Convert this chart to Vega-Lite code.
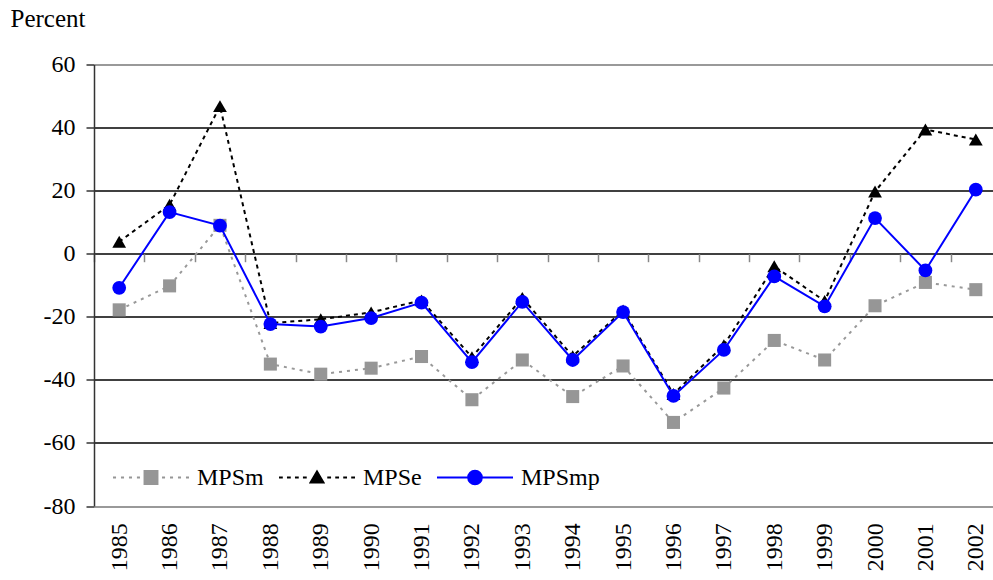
{
  "$schema": "https://vega.github.io/schema/vega-lite/v6.json",
  "width": 899,
  "height": 441.5,
  "autosize": "none",
  "padding": {"left": 94, "top": 64.5, "right": 0, "bottom": 74},
  "background": "white",
  "config": {
    "view": {"stroke": null},
    "font": "Times New Roman, Liberation Serif, serif",
    "legend": {
      "orient": "none",
      "legendX": 18,
      "legendY": 374,
      "direction": "horizontal",
      "padding": 0,
      "symbolSize": 5776,
      "labelFont": "Times New Roman, Liberation Serif, serif",
      "labelFontSize": 24,
      "labelColor": "black",
      "labelOffset": 7,
      "columnPadding": 11,
      "symbolOpacity": 1,
      "symbolStrokeWidth": 2
    }
  },
  "data": {
    "values": [
      {"year": "1985", "series": "MPSm", "value": -17.8},
      {"year": "1986", "series": "MPSm", "value": -10.2},
      {"year": "1987", "series": "MPSm", "value": 9.0},
      {"year": "1988", "series": "MPSm", "value": -35.0},
      {"year": "1989", "series": "MPSm", "value": -38.2},
      {"year": "1990", "series": "MPSm", "value": -36.3},
      {"year": "1991", "series": "MPSm", "value": -32.6},
      {"year": "1992", "series": "MPSm", "value": -46.3},
      {"year": "1993", "series": "MPSm", "value": -33.7},
      {"year": "1994", "series": "MPSm", "value": -45.3},
      {"year": "1995", "series": "MPSm", "value": -35.6},
      {"year": "1996", "series": "MPSm", "value": -53.5},
      {"year": "1997", "series": "MPSm", "value": -42.6},
      {"year": "1998", "series": "MPSm", "value": -27.5},
      {"year": "1999", "series": "MPSm", "value": -33.7},
      {"year": "2000", "series": "MPSm", "value": -16.5},
      {"year": "2001", "series": "MPSm", "value": -9.1},
      {"year": "2002", "series": "MPSm", "value": -11.4},
      {"year": "1985", "series": "MPSe", "value": 3.8},
      {"year": "1986", "series": "MPSe", "value": 15.5},
      {"year": "1987", "series": "MPSe", "value": 46.8},
      {"year": "1988", "series": "MPSe", "value": -22.0},
      {"year": "1989", "series": "MPSe", "value": -20.8},
      {"year": "1990", "series": "MPSe", "value": -18.6},
      {"year": "1991", "series": "MPSe", "value": -14.8},
      {"year": "1992", "series": "MPSe", "value": -32.8},
      {"year": "1993", "series": "MPSe", "value": -14.0},
      {"year": "1994", "series": "MPSe", "value": -32.5},
      {"year": "1995", "series": "MPSe", "value": -18.0},
      {"year": "1996", "series": "MPSe", "value": -44.5},
      {"year": "1997", "series": "MPSe", "value": -29.0},
      {"year": "1998", "series": "MPSe", "value": -4.0},
      {"year": "1999", "series": "MPSe", "value": -15.0},
      {"year": "2000", "series": "MPSe", "value": 19.7},
      {"year": "2001", "series": "MPSe", "value": 39.4},
      {"year": "2002", "series": "MPSe", "value": 36.2},
      {"year": "1985", "series": "MPSmp", "value": -10.8},
      {"year": "1986", "series": "MPSmp", "value": 13.2},
      {"year": "1987", "series": "MPSmp", "value": 8.9},
      {"year": "1988", "series": "MPSmp", "value": -22.3},
      {"year": "1989", "series": "MPSmp", "value": -23.1},
      {"year": "1990", "series": "MPSmp", "value": -20.4},
      {"year": "1991", "series": "MPSmp", "value": -15.5},
      {"year": "1992", "series": "MPSmp", "value": -34.4},
      {"year": "1993", "series": "MPSmp", "value": -15.3},
      {"year": "1994", "series": "MPSmp", "value": -33.7},
      {"year": "1995", "series": "MPSmp", "value": -18.5},
      {"year": "1996", "series": "MPSmp", "value": -45.1},
      {"year": "1997", "series": "MPSmp", "value": -30.5},
      {"year": "1998", "series": "MPSmp", "value": -7.2},
      {"year": "1999", "series": "MPSmp", "value": -16.7},
      {"year": "2000", "series": "MPSmp", "value": 11.3},
      {"year": "2001", "series": "MPSmp", "value": -5.3},
      {"year": "2002", "series": "MPSmp", "value": 20.3}
    ]
  },
  "encoding": {
    "x": {
      "field": "year",
      "type": "ordinal",
      "scale": {"type": "band", "range": [0, 907], "paddingInner": 0, "paddingOuter": 0},
      "axis": {
        "title": null,
        "orient": "bottom",
        "offset": -252.3,
        "tickBand": "extent",
        "ticks": true,
        "tickSize": 8,
        "tickColor": "#888888",
        "tickWidth": 1.5,
        "domain": false,
        "grid": false,
        "labelAngle": -90,
        "labelAlign": "right",
        "labelBaseline": "middle",
        "labelPadding": 261,
        "labelFont": "Times New Roman, Liberation Serif, serif",
        "labelFontSize": 24,
        "labelColor": "black",
        "labelOverlap": false
      }
    },
    "y": {
      "field": "value",
      "type": "quantitative",
      "scale": {"domain": [-80, 60], "nice": false, "zero": false},
      "axis": {
        "values": [-80, -60, -40, -20, 0, 20, 40, 60],
        "labelExpr": "'' + datum.value",
        "title": "Percent",
        "titleAngle": 0,
        "titleAlign": "left",
        "titleBaseline": "alphabetic",
        "titleX": -84,
        "titleY": -38,
        "titleFont": "Times New Roman, Liberation Serif, serif",
        "titleFontSize": 25,
        "titleFontWeight": "normal",
        "titleColor": "black",
        "labelFont": "Times New Roman, Liberation Serif, serif",
        "labelFontSize": 24,
        "labelColor": "black",
        "labelPadding": 11,
        "tickSize": 8,
        "tickColor": "#333333",
        "tickWidth": 1.5,
        "domainColor": "#333333",
        "domainWidth": 1.5,
        "grid": true,
        "gridColor": {"condition": {"test": "datum.value === 60 || datum.value === -80", "value": "#999999"}, "value": "#000000"},
        "gridWidth": {"condition": {"test": "datum.value === 60 || datum.value === -80", "value": 2}, "value": 1.4},
        "gridOpacity": 1
      }
    }
  },
  "layer": [
    {
      "transform": [{"filter": "datum.series === 'MPSm'"}],
      "mark": {"type": "line", "color": "#999999", "strokeDash": [3, 5], "strokeWidth": 2}
    },
    {
      "transform": [{"filter": "datum.series === 'MPSm'"}],
      "mark": {"type": "point", "shape": "square", "filled": true, "color": "#969696", "size": 170, "opacity": 1}
    },
    {
      "transform": [{"filter": "datum.series === 'MPSe'"}],
      "mark": {"type": "line", "color": "black", "strokeDash": [4, 4], "strokeWidth": 2}
    },
    {
      "transform": [{"filter": "datum.series === 'MPSe'"}],
      "mark": {"type": "point", "shape": "triangle-up", "filled": true, "color": "black", "size": 190, "opacity": 1}
    },
    {
      "transform": [{"filter": "datum.series === 'MPSmp'"}],
      "mark": {"type": "line", "color": "#0000FF", "strokeWidth": 2}
    },
    {
      "transform": [{"filter": "datum.series === 'MPSmp'"}],
      "mark": {"type": "point", "shape": "circle", "filled": true, "color": "#0000FF", "size": 190, "opacity": 1}
    },
    {
      "mark": {"type": "point", "filled": true, "opacity": 0},
      "encoding": {
        "color": {
          "field": "series",
          "type": "nominal",
          "scale": {"domain": ["MPSm", "MPSe", "MPSmp"], "range": ["#969696", "black", "#0000FF"]},
          "legend": {
            "title": null,
            "encode": {
              "symbols": {
                "update": {
                  "stroke": {"scale": "color", "field": "value"},
                  "strokeWidth": {"value": 2},
                  "opacity": {"value": 1}
                }
              }
            }
          }
        },
        "shape": {
          "field": "series",
          "type": "nominal",
          "scale": {
            "domain": ["MPSm", "MPSe", "MPSmp"],
            "range": [
              "M-1,0H-0.92M-0.79,0H-0.71M-0.58,0H-0.5M-0.37,0H-0.29M-0.17,-0.17H0.17V0.17H-0.17ZM0.29,0H0.37M0.5,0H0.58M0.71,0H0.79M0.92,0H1",
              "M-1,0H-0.9M-0.79,0H-0.69M-0.58,0H-0.48M-0.37,0H-0.27M0,-0.16L0.17,0.13H-0.17ZM0.27,0H0.37M0.48,0H0.58M0.69,0H0.79M0.9,0H1",
              "M-1,0H-0.18M-0.18,0A0.18,0.18 0 1,1 0.18,0A0.18,0.18 0 1,1 -0.18,0ZM0.18,0H1"
            ]
          },
          "legend": {"title": null}
        }
      }
    }
  ]
}
